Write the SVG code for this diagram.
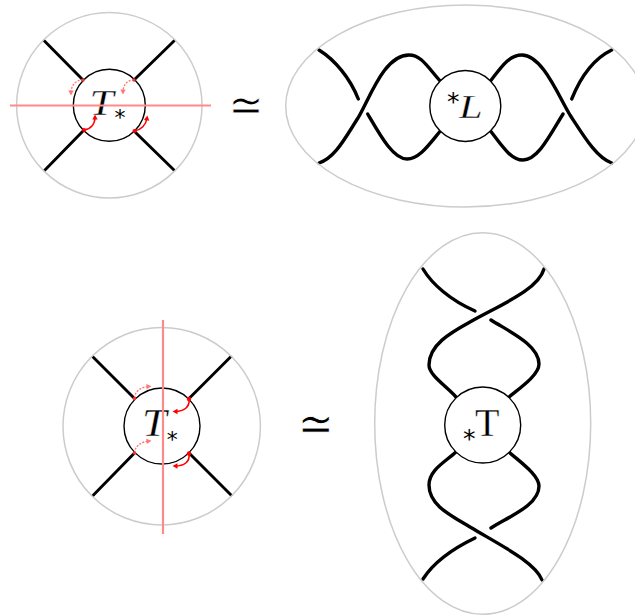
<svg xmlns="http://www.w3.org/2000/svg" width="635" height="616" viewBox="0 0 635 616">
<defs>
<marker id="ah" markerUnits="userSpaceOnUse" markerWidth="7" markerHeight="7" refX="3" refY="3.500" orient="auto"><path d="M0.5,0.800L5.500,3.500L0.5,6.200Z" fill="#f00"/></marker>
<marker id="ahf" markerUnits="userSpaceOnUse" markerWidth="7" markerHeight="7" refX="3" refY="3.500" orient="auto"><path d="M0.5,0.800L5.500,3.500L0.5,6.200Z" fill="#f77"/></marker>
</defs>
<style>
.o{fill:none;stroke:#ccc;stroke-width:1.5}
.i{fill:#fff;stroke:#000;stroke-width:1.4}
.s{fill:none;stroke:#000;stroke-width:3.4;stroke-linecap:round}
.t{fill:none;stroke:#000;stroke-width:2.9;stroke-linecap:butt}
.m{fill:none;stroke:#ff8a8a;stroke-width:2.2}
.a{fill:none;stroke:#f00;stroke-width:1.6;marker-end:url(#ah)}
.f{fill:none;stroke:#f77;stroke-width:1.4;stroke-dasharray:2 1.4;marker-end:url(#ahf)}
.d{fill:#f00}
.e{fill:#e33}
.big{font-family:"Liberation Serif",serif;fill:#000;stroke:#fff;stroke-width:0.35}
.st{font-family:"DejaVu Sans",sans-serif;font-size:25px;fill:#000}
.st2{font-family:"DejaVu Sans",sans-serif;font-size:22px;fill:#000}
.sim{font-family:"DejaVu Sans",sans-serif;font-size:36px;fill:#000;stroke:#fff;stroke-width:0.7}
</style>
<g id="connectors">
<path class="t" d="M43.500,40L83,80M175,40L134,80M44,171L84,130M175,171L134,131"/>
<path class="t" d="M92,356L134.500,398.500M231.500,356L189,398.500M92.500,496L134.500,453M232,496L189,453"/>
<path class="s" d="M319,50C335,60 350,78 358.300,99"/>
<path class="s" d="M319,163C335,158 345,138 358,118C370,98 384,55 409,55C422,55 428,68 442,83"/>
<path class="s" d="M367.700,114C380,135 393,159 407,159C420,159 430,143 442,129"/>
<path class="s" d="M611.700,50C595,58 581,76 571.700,99"/>
<path class="s" d="M611.700,163C597,158 585,138 570,115C558,95 542,55 522,55C508,55 500,69 489,83"/>
<path class="s" d="M563,114C550,135 538,160 523,160C510,160 500,143 489,129"/>
<path class="s" d="M423,269C432,284 450,300 475,311"/>
<path class="s" d="M544,269C538,290 500,305 470,322C450,333 429,345 429,365C429,375 445,385 456,397"/>
<path class="s" d="M491,320C510,332 539,345 539,364C539,375 520,388 509,397"/>
<path class="s" d="M423,579C432,565 450,550 475,538"/>
<path class="s" d="M542,580C535,562 500,545 470,527C450,515 429,505 429,485C429,470 445,462 456,452"/>
<path class="s" d="M491,528C510,516 539,505 539,486C539,475 520,462 509,452"/>
</g>
<g id="node-top-left">
<circle class="o" cx="109.300" cy="105.300" r="92.700"/>
<circle class="i" cx="109.300" cy="105.300" r="36"/>
<text class="big" transform="translate(89.500,114.500) scale(1.2,1)" font-size="36" font-style="italic">T</text>
<text class="st2" x="114.500" y="124.500">*</text>
<path class="m" d="M10,105.500H211"/>
<path class="a" d="M84,130C91,129 95,124 95,117"/>
<path class="a" d="M134.500,131C141,130 146,125 147,118"/>
<path class="f" d="M83,80C76,80 71,85 71,93"/>
<path class="f" d="M134,80C127,80 123,85 123,92"/>
<circle class="d" cx="84" cy="130" r="2"/><circle class="d" cx="134.500" cy="131" r="2"/>
<circle class="e" cx="83" cy="80" r="1.700"/><circle class="e" cx="134" cy="80" r="1.700"/>
</g>
<g id="node-top-right">
<ellipse class="o" cx="465.300" cy="106" rx="179.600" ry="101"/>
<circle class="i" cx="465.300" cy="106" r="35.500"/>
<text class="st" x="447" y="110">*</text>
<text class="big" transform="translate(459,118) scale(1.25,1)" font-size="34" font-style="italic">L</text>
</g>
<g id="node-bottom-left">
<circle class="o" cx="161.700" cy="426.300" r="98.700"/>
<circle class="i" cx="162" cy="426" r="38"/>
<text class="big" transform="translate(142,436) scale(1.13,1)" font-size="39" font-style="italic">T</text>
<text class="st2" x="166.700" y="446.500">*</text>
<path class="m" d="M163,320V534"/>
<path class="a" d="M189,399C190,407 184,411.500 175,411.500"/>
<path class="a" d="M189,454C190,462 184,466 175,466"/>
<path class="f" d="M134.500,398C135,391 141,387 149,386.500"/>
<path class="f" d="M134.500,453C135,446 141,442 149,441"/>
<circle class="d" cx="189" cy="399" r="2.200"/><circle class="d" cx="189" cy="453.500" r="2.200"/>
<circle class="e" cx="134.500" cy="398.500" r="1.800"/><circle class="e" cx="134.500" cy="453" r="1.800"/>
</g>
<g id="node-bottom-right">
<ellipse class="o" cx="482.700" cy="423.500" rx="108" ry="190.800"/>
<circle class="i" cx="482.700" cy="425" r="38"/>
<text class="st" x="463" y="447">*</text>
<text class="big" x="475" y="436" font-size="40">T</text>
</g>
<g id="similar-signs">
<text class="sim" transform="translate(228.500,120.600) scale(1.16,1.32)">≃</text>
<text class="sim" transform="translate(297.400,440.700) scale(1.2,1.43)">≃</text>
</g>
</svg>
